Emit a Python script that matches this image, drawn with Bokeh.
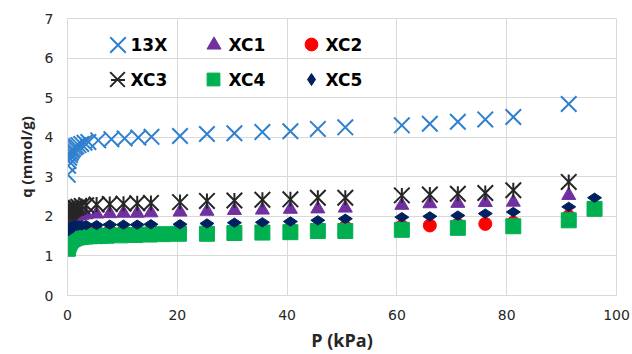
import math
from bokeh.plotting import figure
from bokeh.models import Legend, LegendItem, Range1d, FixedTicker, Label
from bokeh.embed import file_html
from bokeh.resources import INLINE

# Adsorption isotherms: pressure (kPa) vs uptake (mmol/g)
p_13x = [0.05, 0.1, 0.2, 0.3, 0.45, 0.6, 0.8, 1.0, 1.3, 1.6, 2.0, 2.5, 3.1, 3.8,
         5.6, 8.0, 10.4, 12.9, 15.3, 20.5, 25.4, 30.4, 35.5, 40.6, 45.6, 50.6,
         60.9, 66.0, 71.1, 76.1, 81.2, 91.3]
q_13x = [3.05, 3.28, 3.40, 3.48, 3.55, 3.61, 3.66, 3.70, 3.74, 3.77, 3.80, 3.83, 3.86, 3.88,
         3.92, 3.95, 3.97, 3.99, 4.01, 4.03, 4.08, 4.10, 4.13, 4.15, 4.21, 4.25,
         4.30, 4.34, 4.39, 4.45, 4.51, 4.84]

p_xc_low = [0.05, 0.1, 0.2, 0.3, 0.45, 0.6, 0.8, 1.0, 1.3, 1.6, 2.0, 2.6, 3.4,
            5.3, 7.7, 10.2, 12.7, 15.2]
p_xc_high = [20.5, 25.4, 30.4, 35.5, 40.6, 45.6, 50.6, 60.9, 66.0, 71.1, 76.1, 81.2, 91.3]

p_xc1 = p_xc_low + p_xc_high
q_xc1 = [1.75, 1.80, 1.85, 1.88, 1.91, 1.93, 1.95, 1.97, 1.99, 2.00, 2.01, 2.03, 2.04,
         2.06, 2.07, 2.08, 2.08, 2.09,
         2.11, 2.13, 2.15, 2.16, 2.18, 2.19, 2.21, 2.28, 2.32, 2.33, 2.35, 2.36, 2.53]

p_xc2 = p_xc_low + p_xc_high + [96.0]
q_xc2 = [1.40, 1.46, 1.50, 1.53, 1.55, 1.56, 1.57, 1.58, 1.59, 1.59, 1.60, 1.60, 1.61,
         1.61, 1.62, 1.62, 1.62, 1.63,
         1.64, 1.65, 1.66, 1.68, 1.70, 1.71, 1.73, 1.75, 1.77, 1.79, 1.81, 1.84, 2.00, 2.24]

p_xc3 = p_xc_low + p_xc_high
q_xc3 = [1.95, 2.02, 2.07, 2.10, 2.13, 2.15, 2.17, 2.19, 2.21, 2.22, 2.24, 2.26, 2.28,
         2.30, 2.31, 2.32, 2.33, 2.34,
         2.36, 2.39, 2.40, 2.42, 2.43, 2.47, 2.47, 2.53, 2.55, 2.57, 2.59, 2.66, 2.87]

p_xc4 = [0.05, 0.1, 0.2, 0.35, 0.5, 0.7, 1.0, 1.4, 1.9, 2.5, 3.2, 4.0, 5.0, 6.0, 7.1,
         9.7, 12.3, 14.9, 17.5,
         20.3, 25.4, 30.4, 35.5, 40.6, 45.6, 50.6, 60.9, 71.1, 81.2, 91.3, 96.0]
q_xc4 = [1.18, 1.22, 1.28, 1.33, 1.37, 1.40, 1.43, 1.45, 1.47, 1.48, 1.49, 1.50, 1.50, 1.51, 1.51,
         1.52, 1.53, 1.54, 1.55,
         1.56, 1.56, 1.58, 1.59, 1.60, 1.63, 1.63, 1.66, 1.71, 1.75, 1.90, 2.19]

p_xc5 = p_xc_low + p_xc_high + [96.0]
q_xc5 = [1.62, 1.66, 1.69, 1.71, 1.72, 1.73, 1.74, 1.75, 1.76, 1.76, 1.77, 1.77, 1.78,
         1.78, 1.79, 1.79, 1.79, 1.80,
         1.80, 1.82, 1.84, 1.85, 1.87, 1.90, 1.94, 1.98, 2.00, 2.02, 2.07, 2.11, 2.24, 2.47]

series_names = ["13X", "XC1", "XC2", "XC3", "XC4", "XC5"]
x_ticks = [0, 20, 40, 60, 80, 100]
y_ticks = [0, 1, 2, 3, 4, 5, 6, 7]

TICK_FONT = "DejaVu Sans"
TITLE_FONT = "Open Sans"
GRID = "#D9D9D9"
BORDER_L, BORDER_R, BORDER_T, BORDER_B = 67, 16, 18, 59
W, H = 632, 354
FRAME_H = H - BORDER_T - BORDER_B

p = figure(width=W, height=H, output_backend="svg", toolbar_location=None,
           x_range=Range1d(0, 100), y_range=Range1d(0, 7),
           min_border_left=BORDER_L, min_border_right=BORDER_R,
           min_border_top=BORDER_T, min_border_bottom=BORDER_B)
p.background_fill_color = "white"
p.border_fill_color = "white"
p.outline_line_color = GRID

p.xaxis.ticker = FixedTicker(ticks=x_ticks)
p.yaxis.ticker = FixedTicker(ticks=y_ticks)
for ax in (p.xaxis[0], p.yaxis[0]):
    ax.axis_line_color = GRID
    ax.major_tick_line_color = None
    ax.minor_tick_line_color = None
    ax.major_label_text_font = TICK_FONT
    ax.major_label_text_font_size = "14px"
    ax.major_label_text_color = "#262626"
    ax.axis_label_text_font = TITLE_FONT
    ax.axis_label_text_font_style = "bold"
    ax.axis_label_text_color = "#262626"
p.xaxis.axis_label = "P (kPa)"
p.yaxis.axis_label = "q (mmol/g)"
p.xaxis.axis_label_text_font_size = "18px"
p.yaxis.axis_label_text_font_size = "15px"
p.xaxis.major_label_standoff = 8
p.yaxis.major_label_standoff = 8
p.xaxis.axis_label_standoff = 5
p.yaxis.axis_label_standoff = 6

p.xgrid.grid_line_color = GRID
p.ygrid.grid_line_color = GRID

r13 = p.scatter(p_13x, q_13x, marker="x", size=22, line_color="#2F80CF", line_width=2)
r1 = p.scatter(p_xc1, q_xc1, marker="triangle", size=14, fill_color="#7030A0",
               line_color="#7030A0")
r2 = p.scatter(p_xc2, q_xc2, marker="circle", size=13, fill_color="#FF0000",
               line_color="#FF0000")
# six-armed star: a cross of diagonals plus a vertical stroke
r3a = p.scatter(p_xc3, q_xc3, marker="x", size=22, line_color="#262626", line_width=2)
r3b = p.scatter(p_xc3, q_xc3, marker="dash", size=15, angle=math.pi / 2,
                line_color="#262626", line_width=2)
r4 = p.scatter(p_xc4, q_xc4, marker="square", size=15, fill_color="#00B050",
               line_color="#00B050")
r5 = p.scatter(p_xc5, q_xc5, marker="diamond", size=14, angle=math.pi / 2,
               fill_color="#002060", line_color="#002060")


def add_swatch(renderers, cx, cy, size):
    """Legend glyph of the given marker size centred at canvas pixel (cx, cy)."""
    g = int(round(size / 0.4))
    lg = Legend(items=[LegendItem(label=" ", renderers=renderers)],
                location=(cx - g / 2 - BORDER_L, FRAME_H - (cy - BORDER_T) - g / 2))
    lg.background_fill_alpha = 0
    lg.border_line_color = None
    lg.padding = 0
    lg.margin = 0
    lg.spacing = 0
    lg.glyph_width = g
    lg.glyph_height = g
    lg.label_height = g
    lg.label_width = 1
    lg.label_standoff = 0
    lg.label_text_font_size = "1px"
    p.add_layout(lg)


def add_key_text(text, x, cy):
    p.add_layout(Label(x=x - BORDER_L, y=FRAME_H - (cy - BORDER_T),
                       x_units="screen", y_units="screen", text=text,
                       text_font="DejaVu Sans", text_font_size="17px",
                       text_font_style="bold", text_color="#000000",
                       text_align="left", text_baseline="middle"))


rows = [44, 79]
marker_x = [117, 213, 311]
text_x = [130, 228, 325]

add_swatch([r13], marker_x[0], rows[0], 22)
add_swatch([r1], marker_x[1], rows[0], 14)
add_swatch([r2], marker_x[2], rows[0], 13)
add_swatch([r3a], marker_x[0], rows[1], 21)
add_swatch([r3b], marker_x[0], rows[1], 14)
add_swatch([r4], marker_x[1], rows[1], 13)
add_swatch([r5], marker_x[2], rows[1], 12)

for i, name in enumerate(series_names):
    add_key_text(name, text_x[i % 3], rows[i // 3])

open("out.html", "w").write(file_html(p, INLINE))
